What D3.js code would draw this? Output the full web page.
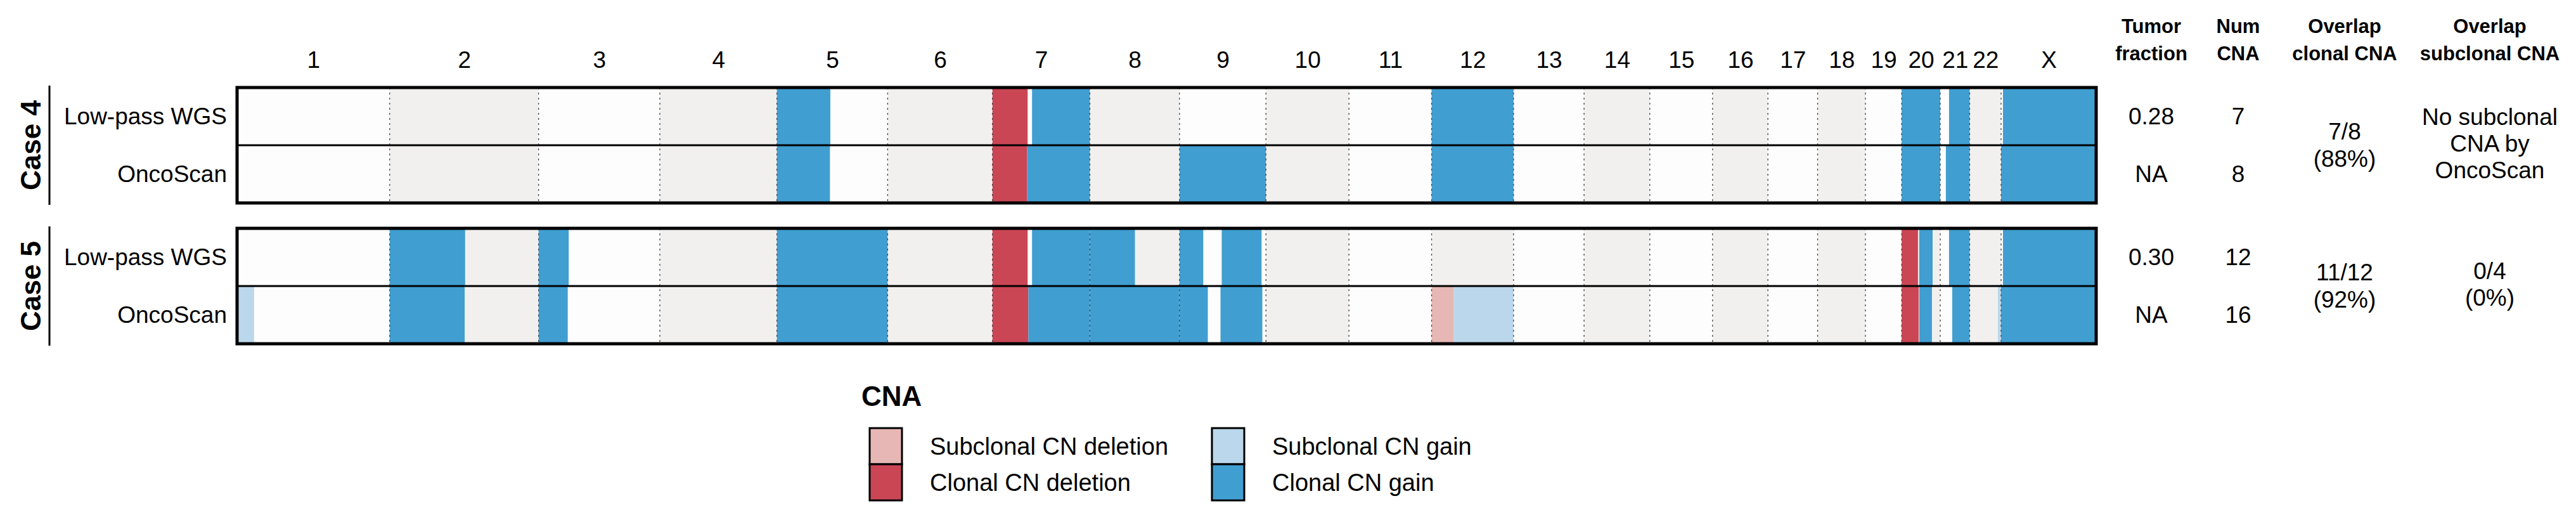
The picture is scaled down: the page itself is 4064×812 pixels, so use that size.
<!DOCTYPE html>
<html>
<head>
<meta charset="utf-8">
<script src="https://cdn.jsdelivr.net/npm/d3@7"></script>
<style>
  body { margin: 0; background: #fff; }
  text { font-family: "Liberation Sans", Arial, Helvetica, sans-serif; fill: #000; }
</style>
</head>
<body>
<script>
// chromosome sizes in Mb (hg19)
const chromosomes = ['1','2','3','4','5','6','7','8','9','10','11','12','13','14','15','16','17','18','19','20','21','22','X'];
const chromLengths = [249.25, 243.20, 198.02, 191.15, 180.92, 171.12, 159.14, 146.36, 141.21, 135.53, 135.01, 133.85,
  115.17, 107.35, 102.53, 90.35, 81.20, 78.08, 59.13, 63.03, 48.13, 51.30, 155.27];

const cases = ['Case 4', 'Case 5'];
const assays = ['Low-pass WGS', 'OncoScan'];

const cnaTypes = ['Subclonal CN deletion', 'Clonal CN deletion', 'Subclonal CN gain', 'Clonal CN gain'];
const cnaColors = ['#e6b7b4', '#ca4655', '#bad7eb', '#419ed1'];

// segments: [chromosome, start Mb, end Mb, type index]
const case4Wgs = [
  ['5', 0, 87.3, 3], ['7', 0, 57.5, 1], ['7', 64.7, 159.14, 3], ['12', 0, 133.85, 3],
  ['20', 0, 63.03, 3], ['21', 14.4, 48.13, 3], ['X', 3.0, 155.27, 3]
];
const case4Onco = [
  ['5', 0, 86.7, 3], ['7', 0, 56.6, 1], ['7', 56.6, 159.14, 3], ['9', 0, 141.21, 3], ['12', 0, 133.85, 3],
  ['20', 0, 63.03, 3], ['21', 9.2, 48.13, 3], ['X', 0, 155.27, 3]
];
const case5Wgs = [
  ['2', 0, 123.2, 3], ['3', 0, 49.2, 3], ['5', 0, 180.92, 3], ['7', 0, 57.5, 1], ['7', 64.7, 159.14, 3],
  ['8', 0, 73.6, 3], ['9', 0, 38.8, 3], ['9', 69.0, 134.0, 3], ['20', 0, 26.7, 1], ['20', 28.8, 50.6, 3],
  ['21', 14.4, 48.13, 3], ['X', 3.0, 155.27, 3]
];
const case5Onco = [
  ['1', 0, 27.8, 2], ['2', 0, 122.5, 3], ['3', 0, 47.6, 3], ['5', 0, 180.92, 3], ['7', 0, 58.7, 1],
  ['7', 58.7, 159.14, 3], ['8', 0, 146.36, 3], ['9', 0, 46.3, 3], ['9', 67.0, 135.3, 3],
  ['12', 0, 36.3, 0], ['12', 36.3, 133.85, 2], ['20', 0, 27.8, 1], ['20', 28.8, 49.5, 3],
  ['21', 19.6, 48.13, 3], ['22', 46.1, 51.30, 2], ['X', 0, 155.27, 3]
];
const segmentRows = [[case4Wgs, case4Onco], [case5Wgs, case5Onco]];

// side table
const tableHeaders = [['Tumor', 'fraction'], ['Num', 'CNA'], ['Overlap', 'clonal CNA'], ['Overlap', 'subclonal CNA']];
const tumorFraction = [['0.28', 'NA'], ['0.30', 'NA']];
const numCna = [['7', '8'], ['12', '16']];
const overlapClonal = [['7/8', '(88%)'], ['11/12', '(92%)']];
const overlapSubclonal = [['No subclonal', 'CNA by', 'OncoScan'], ['0/4', '(0%)']];

const W = 4064, H = 812;
const svg = d3.select('body').append('svg').attr('width', W).attr('height', H);

const offsets = d3.cumsum([0].concat(chromLengths.slice(0, -1)));
const chromStart = new Map(chromosomes.map((c, i) => [c, offsets[i]]));
const genomeLen = d3.sum(chromLengths);

const x = d3.scaleLinear().domain([0, genomeLen]).range([374, 3307]);
const panelTop = d3.scaleOrdinal().domain(cases).range([138, 360]);
const panelH = 182;
const rowY = d3.scaleBand().domain(assays).range([0, panelH]);

// chromosome labels on top
const centerScale = d3.scaleOrdinal().domain(chromosomes)
  .range(chromosomes.map((c, i) => x(offsets[i] + chromLengths[i] / 2)));
const axis = svg.append('g').attr('transform', 'translate(0,107)')
  .call(d3.axisTop(centerScale).tickSize(0).tickPadding(0));
axis.select('.domain').remove();
axis.selectAll('text').attr('font-size', 37).attr('font-family', '"Liberation Sans", Arial, sans-serif').attr('fill', '#000');

cases.forEach((cs, ci) => {
  const top = panelTop(cs);
  const g = svg.append('g').attr('transform', `translate(0,${top})`);

  // alternating background bands
  g.selectAll('rect.band').data(chromosomes).join('rect')
    .attr('class', 'band')
    .attr('x', (c, i) => x(offsets[i]))
    .attr('width', (c, i) => x(offsets[i] + chromLengths[i]) - x(offsets[i]))
    .attr('y', 0).attr('height', panelH)
    .attr('fill', (c, i) => i % 2 ? '#f1f0ee' : '#fdfdfd');

  assays.forEach((as, ai) => {
    g.selectAll(`rect.seg${ai}`).data(segmentRows[ci][ai]).join('rect')
      .attr('class', `seg${ai}`)
      .attr('x', d => x(chromStart.get(d[0]) + d[1]))
      .attr('width', d => x(chromStart.get(d[0]) + d[2]) - x(chromStart.get(d[0]) + d[1]))
      .attr('y', rowY(as)).attr('height', rowY.bandwidth())
      .attr('fill', d => cnaColors[d[3]]);

    svg.append('text')
      .attr('x', 358).attr('y', top + rowY(as) + rowY.bandwidth() / 2)
      .attr('text-anchor', 'end').attr('dominant-baseline', 'central')
      .attr('font-size', 37).text(as);
  });

  // dotted chromosome boundaries
  g.selectAll('line.bound').data(offsets.slice(1)).join('line')
    .attr('class', 'bound')
    .attr('x1', d => x(d)).attr('x2', d => x(d))
    .attr('y1', 0).attr('y2', panelH)
    .attr('stroke', '#444').attr('stroke-width', 1.3).attr('stroke-dasharray', '3,5');

  g.append('line')
    .attr('x1', x(0)).attr('x2', x(genomeLen))
    .attr('y1', rowY(assays[1])).attr('y2', rowY(assays[1]))
    .attr('stroke', '#000').attr('stroke-width', 3);

  g.append('rect')
    .attr('x', x(0)).attr('y', 0)
    .attr('width', x(genomeLen) - x(0)).attr('height', panelH)
    .attr('fill', 'none').attr('stroke', '#000').attr('stroke-width', 5);

  // case label with bar
  svg.append('line')
    .attr('x1', 78).attr('x2', 78).attr('y1', top - 3).attr('y2', top + panelH + 3)
    .attr('stroke', '#000').attr('stroke-width', 3);
  svg.append('text')
    .attr('transform', `translate(64,${top + panelH / 2}) rotate(-90)`)
    .attr('text-anchor', 'middle').attr('font-size', 44).attr('font-weight', 'bold')
    .text(cs);
});

// side table
const colX = [3394, 3531, 3699, 3928];
tableHeaders.forEach((lines, i) => {
  lines.forEach((t, j) => {
    svg.append('text').attr('x', colX[i]).attr('y', 52 + j * 43)
      .attr('text-anchor', 'middle').attr('font-size', 31).attr('font-weight', 'bold').text(t);
  });
});

function multiLine(col, cy, lines, gap) {
  const y0 = cy - (lines.length - 1) * gap / 2;
  lines.forEach((t, j) => {
    svg.append('text').attr('x', colX[col]).attr('y', y0 + j * gap)
      .attr('text-anchor', 'middle').attr('dominant-baseline', 'central')
      .attr('font-size', 37).text(t);
  });
}

cases.forEach((cs, ci) => {
  const top = panelTop(cs);
  assays.forEach((as, ai) => {
    const cy = top + rowY(as) + rowY.bandwidth() / 2;
    multiLine(0, cy, [tumorFraction[ci][ai]], 0);
    multiLine(1, cy, [numCna[ci][ai]], 0);
  });
  const mid = top + panelH / 2;
  multiLine(2, mid, overlapClonal[ci], 43);
  multiLine(3, mid - 3, overlapSubclonal[ci], 42);
});

// legend
const legend = svg.append('g');
legend.append('text').attr('x', 1359).attr('y', 640)
  .attr('font-size', 44).attr('font-weight', 'bold').text('CNA');
const legX = [1372, 1912];
const legItems = legend.selectAll('g.item').data(cnaTypes).join('g')
  .attr('class', 'item')
  .attr('transform', (d, i) => `translate(${legX[Math.floor(i / 2)]},${675 + (i % 2) * 57})`);
legItems.append('rect')
  .attr('width', 51).attr('height', 57)
  .attr('fill', (d, i) => cnaColors[i]).attr('stroke', '#000').attr('stroke-width', 3);
legItems.append('text')
  .attr('x', 95).attr('y', 29).attr('dominant-baseline', 'central')
  .attr('font-size', 38).text(d => d);
</script>
</body>
</html>
